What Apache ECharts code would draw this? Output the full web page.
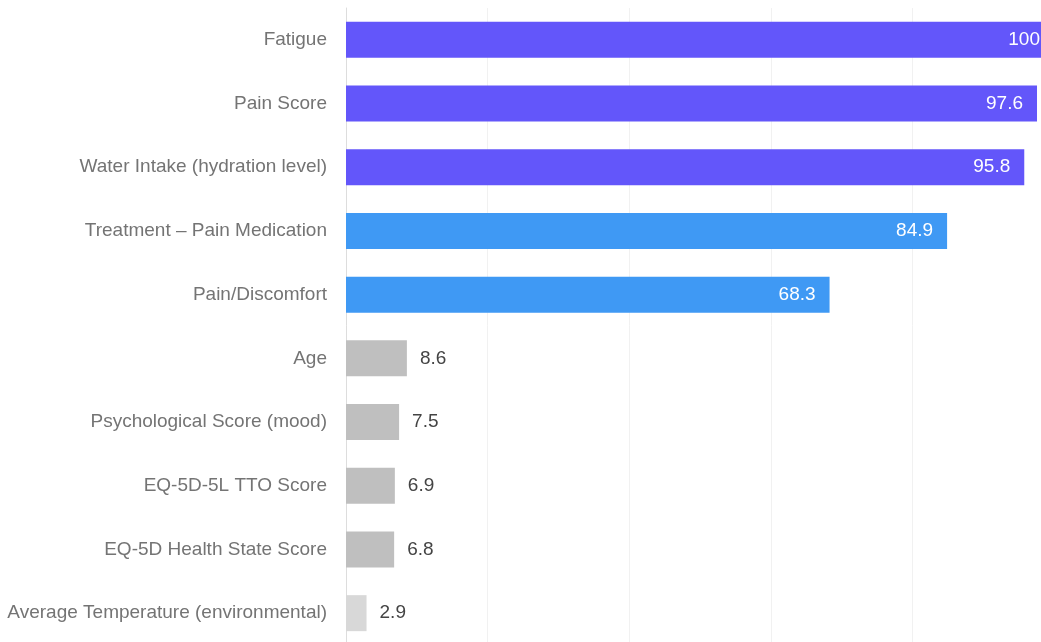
<!DOCTYPE html>
<html>
<head>
<meta charset="utf-8">
<script src="https://cdn.jsdelivr.net/npm/echarts@6/dist/echarts.min.js"></script>
<style>
html,body{margin:0;padding:0;background:#fff;}
#chart{width:1041px;height:642px;}
</style>
</head>
<body>
<div id="chart"></div>
<script>
const categories = [
  "Fatigue",
  "Pain Score",
  "Water Intake (hydration level)",
  "Treatment – Pain Medication",
  "Pain/Discomfort",
  "Age",
  "Psychological Score (mood)",
  "EQ-5D-5L TTO Score",
  "EQ-5D Health State Score",
  "Average Temperature (environmental)"
];
const values = [100, 97.6, 95.8, 84.9, 68.3, 8.6, 7.5, 6.9, 6.8, 2.9];
const groups = ["high", "high", "high", "mid", "mid", "low", "low", "low", "low", "min"];

const groupColors = { high: "#6356fa", mid: "#3f99f4", low: "#bfbfbf", min: "#d8d8d8" };

const chart = echarts.init(document.getElementById('chart'), null, { renderer: 'canvas' });

const data = values.map((v, i) => {
  const big = v > 50;
  return {
    value: v,
    itemStyle: { color: groupColors[groups[i]] },
    label: big
      ? { show: true, position: 'insideRight', color: '#ffffff', distance: 14 }
      : { show: true, position: 'right', color: '#444444', distance: 13 }
  };
});

chart.setOption({
  animation: false,
  backgroundColor: '#ffffff',
  grid: { left: 346, top: 8, right: -13, bottom: -3, outerBoundsMode: 'none', containLabel: false },
  xAxis: {
    type: 'value',
    min: 0,
    max: 100,
    interval: 20,
    axisLabel: { show: false },
    axisLine: { show: false },
    axisTick: { show: false },
    splitLine: { show: true, lineStyle: { color: '#f1f1f1', width: 1 } }
  },
  yAxis: {
    type: 'category',
    inverse: true,
    data: categories,
    axisLine: { show: true, lineStyle: { color: '#dddddd', width: 1 } },
    axisTick: { show: false },
    axisLabel: {
      color: '#747474',
      fontSize: 19,
      fontFamily: 'Liberation Sans, Helvetica, Arial, sans-serif',
      margin: 19
    }
  },
  series: [{
    type: 'bar',
    data: data,
    barWidth: 36,
    label: {
      fontSize: 19,
      fontFamily: 'Liberation Sans, Helvetica, Arial, sans-serif'
    }
  }]
});
</script>
</body>
</html>
